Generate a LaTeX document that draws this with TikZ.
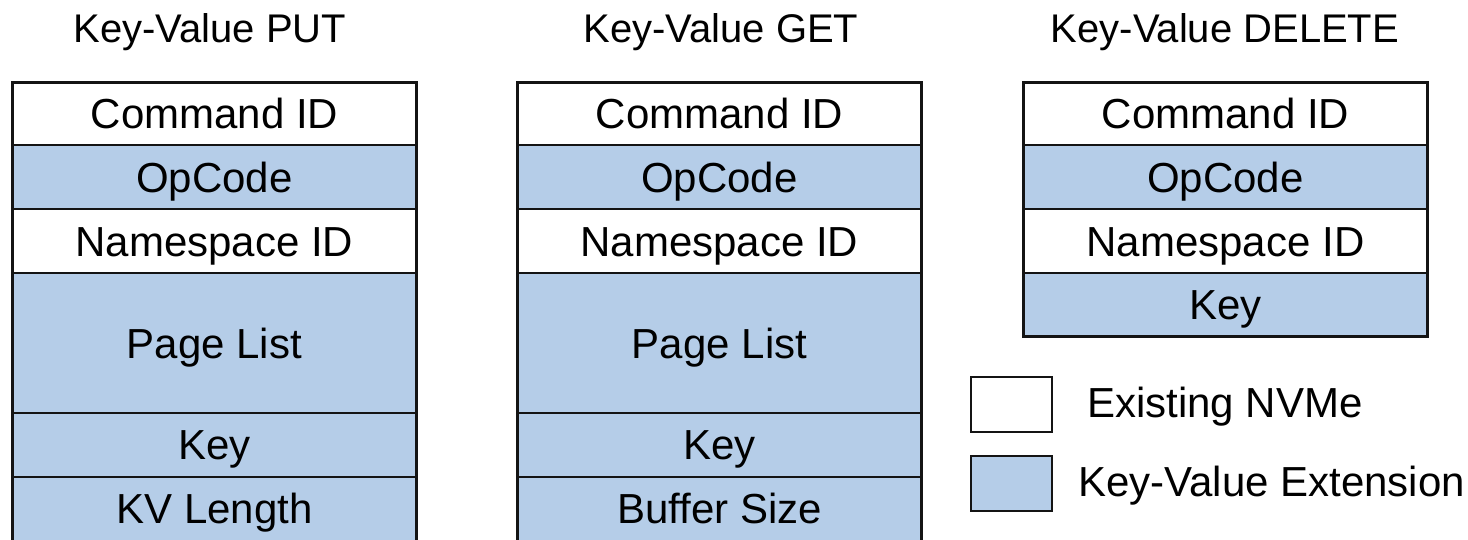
\documentclass[tikz,border=0pt]{standalone}
\usepackage{fontspec}
\setmainfont{Liberation Sans}
\definecolor{kvblue}{RGB}{181,205,232}
\definecolor{edge}{RGB}{20,20,20}
\begin{document}
\begin{tikzpicture}[x=1pt,y=-1pt,
  field/.style={draw=edge, line width=2.3pt, rectangle, inner sep=0pt,
    minimum width=404pt, text height=30pt, text depth=0pt,
    font=\fontsize{42}{50}\selectfont},
  nvme/.style={field, fill=white},
  kvext/.style={field, fill=kvblue},
  heading/.style={inner sep=0pt, text height=29pt, text depth=0pt,
    font=\fontsize{40}{48}\selectfont},
  swatch/.style={draw=edge, line width=2.3pt, rectangle, inner sep=0pt,
    minimum width=81pt, minimum height=55pt},
  legendtext/.style={anchor=west, inner sep=0pt, text height=30pt, text depth=0pt,
    font=\fontsize{42}{50}\selectfont}]
\useasboundingbox (0,0) rectangle (1468,539);

% column titles
\node[heading] (tput) at (210,27.5) {Key-Value PUT};
\node[heading] (tget) at (721,27.5) {Key-Value GET};
\node[heading] (tdel) at (1225,27.5) {Key-Value DELETE};

% PUT command layout
\node[nvme,  minimum height=62.7pt]  (p1) at (214.5,113.85) {Command ID};
\node[kvext, minimum height=63.8pt]  (p2) at (214.5,177.1)  {OpCode};
\node[nvme,  minimum height=64pt]    (p3) at (214.5,241)    {Namespace ID};
\node[kvext, minimum height=140pt]   (p4) at (214.5,343)    {Page List};
\node[kvext, minimum height=63.7pt]  (p5) at (214.5,444.85) {Key};
\node[kvext, minimum height=64.3pt]  (p6) at (214.5,508.85) {KV Length};

% GET command layout
\node[nvme,  minimum height=62.7pt]  (g1) at (719.5,113.85) {Command ID};
\node[kvext, minimum height=63.8pt]  (g2) at (719.5,177.1)  {OpCode};
\node[nvme,  minimum height=64pt]    (g3) at (719.5,241)    {Namespace ID};
\node[kvext, minimum height=140pt]   (g4) at (719.5,343)    {Page List};
\node[kvext, minimum height=63.7pt]  (g5) at (719.5,444.85) {Key};
\node[kvext, minimum height=64.3pt]  (g6) at (719.5,508.85) {Buffer Size};

% DELETE command layout
\node[nvme,  minimum height=62.7pt]  (d1) at (1225.5,113.85) {Command ID};
\node[kvext, minimum height=63.8pt]  (d2) at (1225.5,177.1)  {OpCode};
\node[nvme,  minimum height=64pt]    (d3) at (1225.5,241)    {Namespace ID};
\node[kvext, minimum height=63.5pt]  (d4) at (1225.5,304.75) {Key};

% legend
\node[swatch, fill=white]  (lw) at (1011.5,404.5) {};
\node[swatch, fill=kvblue] (lb) at (1011.5,483.5) {};
\node[legendtext] (lwt) at (1087,402.5) {Existing NVMe};
\node[legendtext] (lbt) at (1078,481.7) {Key-Value Extension};
\end{tikzpicture}
\end{document}
